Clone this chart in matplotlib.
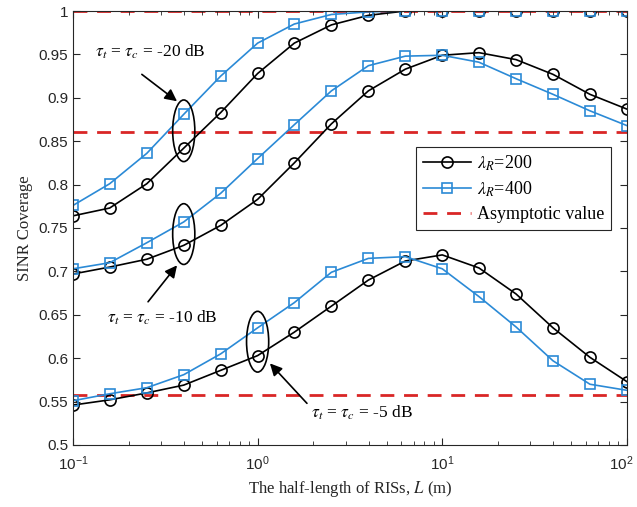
import numpy as np
import matplotlib
matplotlib.use('Agg')
import matplotlib.pyplot as plt
import matplotlib.transforms as mtransforms
from matplotlib.patches import Ellipse

plt.rcParams['mathtext.fontset'] = 'stix'

# half-length of RISs (m)
L = [0.1, 0.158, 0.251, 0.398, 0.631, 1, 1.58, 2.51, 3.98, 6.31, 10, 15.8, 25.1, 39.8, 63.1, 100]

# tau = -20 dB
cov20_200 = [0.764, 0.773, 0.801, 0.842, 0.883, 0.928, 0.963, 0.984, 0.995, 1.0, 1.0, 1.0, 1.0, 1.0, 1.0, 1.0]
cov20_400 = [0.776, 0.801, 0.836, 0.881, 0.925, 0.963, 0.985, 0.996, 0.999, 1.0, 1.0, 1.0, 1.0, 1.0, 1.0, 1.0]
# tau = -10 dB
cov10_200 = [0.697, 0.705, 0.714, 0.730, 0.753, 0.783, 0.825, 0.870, 0.908, 0.933, 0.949, 0.952, 0.944, 0.927, 0.904, 0.887]
cov10_400 = [0.703, 0.710, 0.733, 0.757, 0.790, 0.830, 0.869, 0.908, 0.937, 0.948, 0.949, 0.941, 0.922, 0.904, 0.885, 0.868]
# tau = -5 dB
cov5_200 = [0.546, 0.552, 0.560, 0.569, 0.586, 0.603, 0.630, 0.660, 0.690, 0.712, 0.719, 0.704, 0.674, 0.635, 0.601, 0.573]
cov5_400 = [0.551, 0.559, 0.566, 0.581, 0.605, 0.635, 0.664, 0.699, 0.715, 0.717, 0.703, 0.671, 0.636, 0.597, 0.570, 0.563]

asym = [1.0, 0.861, 0.558]

blue = '#2b8ad6'
red = '#d92626'
serif = 'Liberation Serif'

fig = plt.figure(figsize=(6.37, 5.07), dpi=100)
ax = fig.add_axes([0.1146, 0.1223, 0.8695, 0.8560])

for a in asym:
    ax.axhline(a, color=red, linestyle=(0, (5, 3.5)), linewidth=2.0, zorder=1)

ax.plot(L, cov20_200, 'k-o', mfc='none', ms=8, lw=1.2, mew=1.2, label=r'$\lambda_R$=200')
ax.plot(L, cov20_400, '-s', color=blue, mfc='none', ms=7, lw=1.2, mew=1.2, label=r'$\lambda_R$=400')
ax.plot([], [], color=red, linestyle=(0, (5, 3.5)), lw=2.0, label='Asymptotic value')
ax.plot(L, cov10_200, 'k-o', mfc='none', ms=8, lw=1.2, mew=1.2)
ax.plot(L, cov10_400, '-s', color=blue, mfc='none', ms=7, lw=1.2, mew=1.2)
ax.plot(L, cov5_200, 'k-o', mfc='none', ms=8, lw=1.2, mew=1.2)
ax.plot(L, cov5_400, '-s', color=blue, mfc='none', ms=7, lw=1.2, mew=1.2)

ax.set_xscale('log')
ax.set_xlim(0.1, 100)
ax.set_ylim(0.5, 1.0)
ax.set_xticks([0.1, 1, 10, 100])
ax.set_xticklabels([r'$\mathregular{10^{-1}}$', r'$\mathregular{10^{0}}$',
                    r'$\mathregular{10^{1}}$', r'$\mathregular{10^{2}}$'])
ax.set_yticks(np.arange(0.5, 1.001, 0.05))
ax.set_yticklabels(['0.5', '0.55', '0.6', '0.65', '0.7', '0.75', '0.8', '0.85', '0.9', '0.95', '1'])
ax.tick_params(which='both', direction='in', top=True, right=True, labelsize=11,
               colors='#262626', labelfontfamily='Liberation Sans')
ax.tick_params(which='major', length=5)
ax.tick_params(which='minor', length=3)
ax.tick_params(axis='x', pad=7)
for s in ax.spines.values():
    s.set_color('#262626')
    s.set_linewidth(0.8)

# nudge the last x label so it stays inside the figure
last = ax.get_xticklabels()[-1]
last.set_transform(last.get_transform() + mtransforms.ScaledTranslation(-6 / 100, 0, fig.dpi_scale_trans))

ax.set_xlabel('The half-length of RISs, $L$ (m)', fontsize=12, family=serif, color='#262626')
ax.set_ylabel('SINR Coverage', fontsize=12, family=serif, color='#262626')

# ellipses (x in log-axis fraction)
def xfrac(x):
    return (np.log10(x) + 1) / 3

for xc, yc, h in [(0.398, 0.862, 0.071), (0.398, 0.743, 0.070), (1.0, 0.619, 0.070)]:
    ax.add_patch(Ellipse((xfrac(xc), (yc - 0.5) / 0.5), 0.040, h / 0.5,
                         transform=ax.transAxes, fill=False, ec='k', lw=1.2, zorder=4))

ap = dict(arrowstyle='-|>', color='k', lw=1.2, mutation_scale=18, shrinkA=0, shrinkB=0)
tk = dict(fontsize=12.5, family=serif, ha='left', va='center')

ax.text(0.131, 0.953, r'$\tau_t$ = $\tau_c$ = -20 dB', **tk)
ax.annotate('', xy=(0.366, 0.896), xytext=(0.236, 0.927), arrowprops=ap)

ax.text(0.152, 0.646, r'$\tau_t$ = $\tau_c$ = -10 dB', **tk)
ax.annotate('', xy=(0.366, 0.707), xytext=(0.255, 0.665), arrowprops=ap)

ax.text(1.94, 0.537, r'$\tau_t$ = $\tau_c$ = -5 dB', **tk)
ax.annotate('', xy=(1.166, 0.594), xytext=(1.85, 0.548), arrowprops=ap)

leg = ax.legend(loc='upper left', bbox_to_anchor=(0.62, 0.687),
                prop={'family': serif, 'size': 13}, fancybox=False, edgecolor='#262626',
                framealpha=1, handlelength=2.7, borderpad=0.35, labelspacing=0.4,
                handletextpad=0.3, borderaxespad=0)
leg.get_frame().set_linewidth(0.8)

fig.savefig('out.png', dpi=100)
